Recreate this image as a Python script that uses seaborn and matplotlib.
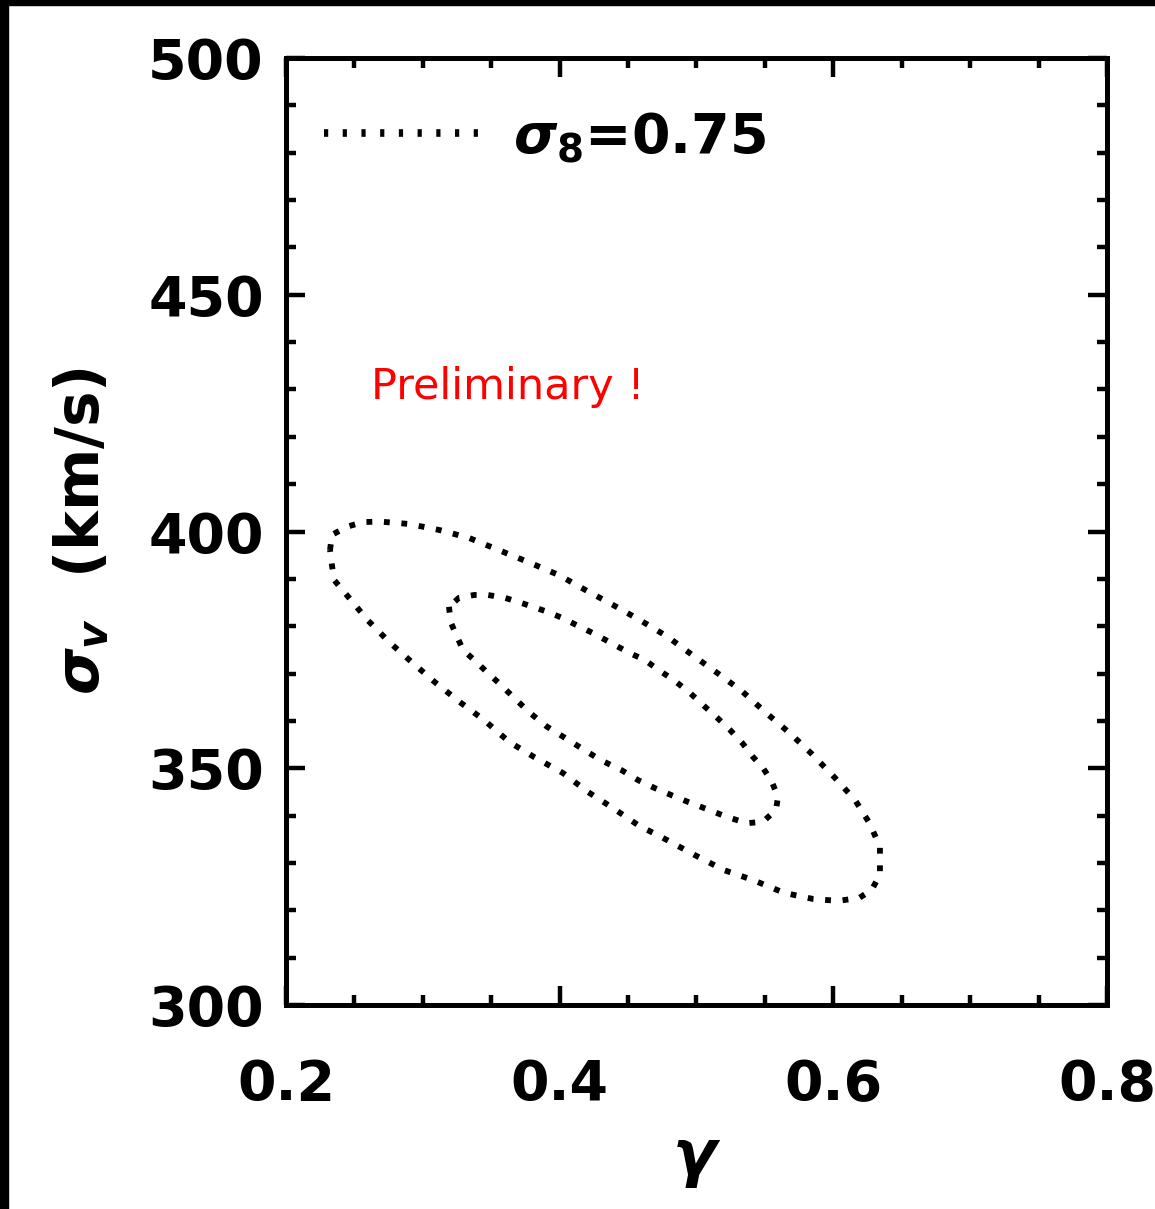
#%% load modules
import matplotlib
matplotlib.use('Agg')
import matplotlib.pyplot as plt
import seaborn as sns
import pandas as pd
from matplotlib.lines import Line2D
from matplotlib.patches import Rectangle

#%% data (sigma_8 = 0.75 contours)
outer_gamma = [0.2322, 0.2336, 0.2444, 0.2563, 0.2687, 0.2899, 0.3125, 0.3342, 0.3554, 0.3783,
               0.3995, 0.4192, 0.4390, 0.4587, 0.4788, 0.4971, 0.5154, 0.5336, 0.5501, 0.5683,
               0.5837, 0.6005, 0.6159, 0.6265, 0.6341, 0.6341, 0.6280, 0.6188, 0.6034, 0.5852,
               0.5640, 0.5413, 0.5201, 0.4986, 0.4788, 0.4573, 0.4390, 0.4207, 0.4024, 0.3812,
               0.3630, 0.3447, 0.3279, 0.3096, 0.2928, 0.2760, 0.2596, 0.2444, 0.2351, 0.2336,
               0.2322]
outer_sigv = [396.1, 399.3, 401.0, 402.0, 402.1, 401.6, 400.3, 398.6, 396.1, 393.4,
              390.8, 387.6, 384.5, 381.3, 377.8, 373.9, 370.1, 366.2, 361.9, 357.4,
              353.2, 348.2, 343.3, 338.4, 333.4, 327.5, 324.3, 322.6, 322.0, 322.4,
              323.7, 326.4, 328.5, 331.7, 334.8, 338.0, 341.6, 345.0, 349.0, 352.4,
              355.6, 360.2, 363.8, 368.0, 372.2, 376.5, 381.3, 386.6, 389.8, 392.9,
              396.1]

inner_gamma = [0.3191, 0.3206, 0.3250, 0.3294, 0.3389, 0.3476, 0.3571, 0.3659, 0.3783, 0.3907,
               0.4024, 0.4178, 0.4302, 0.4453, 0.4573, 0.4697, 0.4819, 0.4938, 0.5092, 0.5216,
               0.5367, 0.5486, 0.5581, 0.5596, 0.5550, 0.5486, 0.5413, 0.5336, 0.5245, 0.5154,
               0.5062, 0.4953, 0.4836, 0.4726, 0.4621, 0.4514, 0.4361, 0.4240, 0.4119, 0.4024,
               0.3905, 0.3723, 0.3600, 0.3476, 0.3374, 0.3264, 0.3191]
inner_sigv = [384.1, 380.7, 377.8, 375.0, 372.5, 370.1, 367.6, 365.1, 361.7, 358.8,
              356.7, 353.9, 351.7, 349.6, 347.5, 345.8, 344.3, 342.9, 341.2, 339.8,
              338.4, 338.7, 341.2, 344.0, 347.2, 350.1, 352.4, 355.3, 358.1, 360.6,
              363.0, 365.9, 368.6, 370.7, 372.9, 374.3, 376.7, 378.6, 380.3, 381.7,
              383.1, 384.9, 386.0, 386.6, 386.6, 386.0, 384.1]

x_major = [0.2, 0.4, 0.6, 0.8]
y_major = [300, 350, 400, 450, 500]

#%% style
sns.set_style('ticks')
plt.rcParams['font.family'] = ['DejaVu Sans']
plt.rcParams['font.weight'] = 'bold'
plt.rcParams['axes.labelweight'] = 'bold'
plt.rcParams['text.color'] = 'black'
plt.rcParams['axes.labelcolor'] = 'black'
plt.rcParams['mathtext.fontset'] = 'custom'
plt.rcParams['mathtext.rm'] = 'DejaVu Sans:bold'
plt.rcParams['mathtext.it'] = 'DejaVu Sans:italic:bold'
plt.rcParams['mathtext.bf'] = 'DejaVu Sans:bold'

fig = plt.figure(figsize=(11.55, 12.09), dpi=100)
ax = fig.add_axes([0.2476, 0.1687, 0.9584 - 0.2476, 0.952 - 0.1687])

dots = (0, (1.0, 2.0))
df_out = pd.DataFrame({'gamma': outer_gamma, 'sigv': outer_sigv})
df_in = pd.DataFrame({'gamma': inner_gamma, 'sigv': inner_sigv})
sns.lineplot(data=df_out, x='gamma', y='sigv', sort=False, estimator=None, ax=ax,
             color='black', linewidth=4.2, linestyle=dots)
sns.lineplot(data=df_in, x='gamma', y='sigv', sort=False, estimator=None, ax=ax,
             color='black', linewidth=4.2, linestyle=dots)

ax.set(xlim=(0.2, 0.8), ylim=(300, 500))
ax.set_xticks(x_major)
ax.set_xticklabels(['0.2', '0.4', '0.6', '0.8'])
ax.set_yticks(y_major)
ax.set_xticks([0.25, 0.3, 0.35, 0.45, 0.5, 0.55, 0.65, 0.7, 0.75], minor=True)
ax.set_yticks([v for v in range(310, 500, 10) if v % 50 != 0], minor=True)
ax.tick_params(which='both', direction='in', top=True, right=True, width=3.2,
               labelsize=40, colors='black')
ax.tick_params(which='major', length=14)
ax.tick_params(axis='x', which='major', pad=38)
ax.tick_params(axis='y', which='major', pad=16)
ax.tick_params(which='minor', length=7.5)
for s in ax.spines.values():
    s.set_linewidth(3.6)
    s.set_color('black')

ax.set_xlabel(r'$\gamma$', fontsize=46, labelpad=12)
ax.set_ylabel(r'$\sigma_v$  (km/s)', fontsize=43, labelpad=26)

ax.text(0.262, 430.5, 'Preliminary !', color='red', fontsize=31,
        fontweight='normal', ha='left', va='center')

# custom legend
legend_elements = [Line2D([0], [0], color='black', linewidth=5.5,
                          linestyle=(0, (0.55, 1.9)), label=r'$\sigma_8$=0.75')]
ax.legend(handles=legend_elements, loc='upper left', frameon=False, fontsize=40,
          handlelength=2.9, handletextpad=0.5, bbox_to_anchor=(-0.015, 0.997))

# black frame on left and top edges
fig.add_artist(Rectangle((0, 0), 8 / 1155, 1, transform=fig.transFigure,
                         color='black', zorder=10))
fig.add_artist(Rectangle((0, 1 - 5 / 1209), 1, 5 / 1209, transform=fig.transFigure,
                         color='black', zorder=10))

plt.savefig('out.png', dpi=100)
